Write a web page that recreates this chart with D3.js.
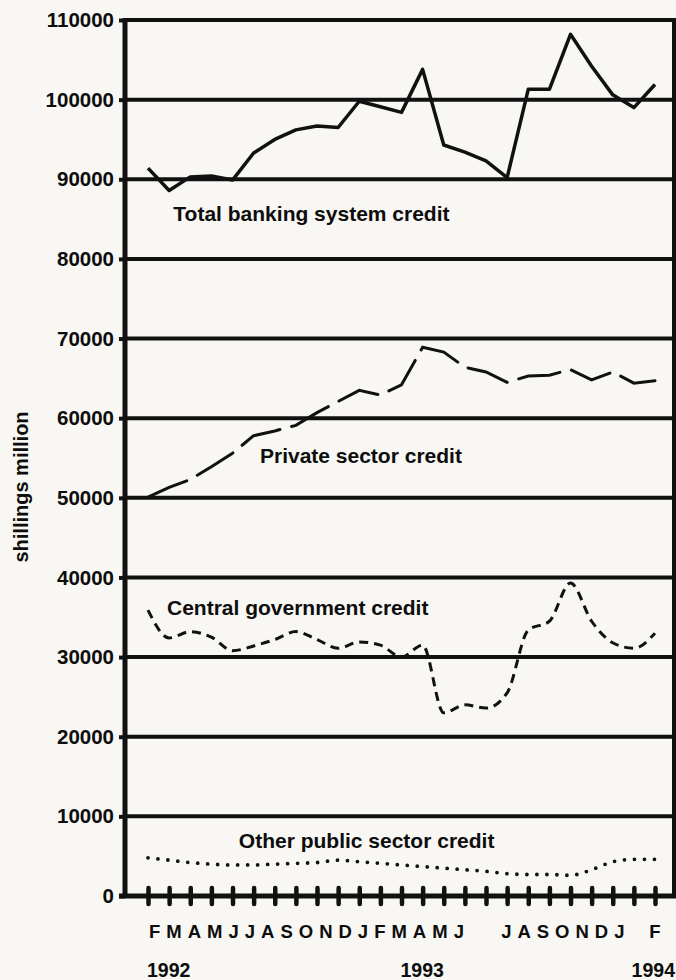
<!DOCTYPE html>
<meta charset="utf-8">
<style>
    body {
        margin: 0;
        background: #f8f7f3;
    }
    svg {
        display: block;
        font-family: "Liberation Sans", Arial, Helvetica, sans-serif;
        font-weight: bold;
    }
    text {
        fill: #0d0d0d;
    }
    .grid line {
        stroke: #111;
        stroke-width: 4;
    }
    .series {
        fill: none;
        stroke: #111;
    }
</style>
<body>
<script src="https://d3js.org/d3.v7.min.js"></script>
<script>
    // months Feb 1992 .. Feb 1994 (index 0..24)
    var months = ["F","M","A","M","J","J","A","S","O","N","D","J",
                  "F","M","A","M","J","J","A","S","O","N","D","J","F"];

    var totalCredit = [91400, 88600, 90300, 90400, 89900, 93300, 95000, 96200, 96700, 96500,
                       99800, 99100, 98400, 103800, 94300, 93400, 92300, 90200, 101300, 101300,
                       108200, 104200, 100600, 99000, 101900];

    var privateCredit = [50100, 51300, 52300, 53900, 55600, 57800, 58400, 59100, 60700, 62100,
                         63500, 62900, 64200, 68900, 68300, 66400, 65800, 64500, 65300, 65400,
                         66100, 64800, 65800, 64400, 64700];

    var centralCredit = [35900, 32400, 33200, 32500, 30800, 31400, 32200, 33200, 32200, 31100,
                         31900, 31500, 30000, 31500, 23000, 24000, 23600, 25500, 33400, 34500,
                         39300, 34500, 31800, 31100, 33000];

    var otherCredit = [4800, 4500, 4200, 4000, 3900, 3900, 4000, 4100, 4200, 4500,
                       4300, 4100, 3900, 3700, 3500, 3300, 3100, 2800, 2700, 2700,
                       2600, 3300, 4300, 4600, 4600];

    var yTicks = d3.range(0, 110001, 10000);

    // month label runs as typeset under the axis: text, month index where it starts
    var monthRuns = [
        {text: "FMAMJJASONDJFMAMJ", start: 0},
        {text: "JASONDJ", start: 17},
        {text: "F", start: 24}
    ];
    var years = [{text: "1992", start: 0}, {text: "1993", start: 12}, {text: "1994", start: 23}];

    // series labels: name, month index, value where the text starts
    var seriesLabels = [
        {text: "Total banking system credit", m: 1.2, v: 84700},
        {text: "Private sector credit", m: 5.3, v: 54400},
        {text: "Central government credit", m: 0.9, v: 35300},
        {text: "Other public sector credit", m: 4.3, v: 6000}
    ];

    var width = 676, height = 980;
    var frame = {left: 125, right: 674, top: 20, bottom: 896};

    var x = d3.scaleLinear()
            .domain([0, months.length - 1])
            .range([148, 655]);

    var y = d3.scaleLinear()
            .domain([0, 110000])
            .range([frame.bottom, frame.top]);

    var svg = d3.select("body").append("svg")
            .attr("width", width)
            .attr("height", height);

    // horizontal grid lines
    svg.append("g")
            .attr("class", "grid")
            .selectAll("line")
            .data(yTicks.filter(function(d) { return d > 0; }))
            .join("line")
            .attr("x1", frame.left)
            .attr("x2", frame.right)
            .attr("y1", function(d) { return y(d); })
            .attr("y2", function(d) { return y(d); });

    // right border
    svg.append("line")
            .attr("x1", frame.right).attr("x2", frame.right)
            .attr("y1", frame.top - 2).attr("y2", frame.bottom)
            .attr("stroke", "#111").attr("stroke-width", 4);

    // y axis
    var yAxis = d3.axisLeft(y)
            .tickValues(yTicks)
            .tickFormat(d3.format("d"))
            .tickSize(6)
            .tickPadding(5);

    var gy = svg.append("g")
            .attr("transform", "translate(" + frame.left + ",0)")
            .call(yAxis);
    gy.select(".domain").attr("stroke", "#111").attr("stroke-width", 5)
            .attr("d", "M0," + (frame.top - 2) + "V" + (frame.bottom + 2));
    gy.selectAll(".tick line").attr("stroke", "#111").attr("stroke-width", 4);
    gy.selectAll(".tick text")
            .attr("font-size", 20.5)
            .attr("font-family", "Liberation Sans, Arial, sans-serif")
            .attr("font-weight", "bold")
            .attr("fill", "#0d0d0d");

    // x axis with cross ticks
    var xAxis = d3.axisBottom(x)
            .tickValues(d3.range(months.length))
            .tickFormat("")
            .tickSizeInner(8)
            .tickSizeOuter(0);

    var gx = svg.append("g")
            .attr("transform", "translate(0," + frame.bottom + ")")
            .call(xAxis);
    gx.select(".domain").attr("stroke", "#111").attr("stroke-width", 5)
            .attr("d", "M" + (frame.left - 6) + ",0H" + (frame.right + 2));
    gx.selectAll(".tick line")
            .attr("y1", -8).attr("y2", 8)
            .attr("stroke", "#111").attr("stroke-width", 4.5)
            .attr("stroke-linecap", "round");

    // month labels
    svg.append("g").selectAll("text")
            .data(monthRuns)
            .join("text")
            .attr("x", function(d) { return d.text.length > 1 ? x(d.start) + (d.start ? -6 : 1) : x(d.start) + 3; })
            .attr("y", 938)
            .attr("text-anchor", function(d) { return d.text.length > 1 ? "start" : "middle"; })
            .attr("font-size", 18.5)
            .attr("letter-spacing", 6)
            .text(function(d) { return d.text; });

    svg.append("g").selectAll("text")
            .data(years)
            .join("text")
            .attr("x", function(d, i) { return i === years.length - 1 ? width - 1 : x(d.start) - 1; })
            .attr("text-anchor", function(d, i) { return i === years.length - 1 ? "end" : "start"; })
            .attr("y", 977)
            .attr("font-size", 19.5)
            .text(function(d) { return d.text; });

    // y axis title
    svg.append("text")
            .attr("transform", "translate(28,487) rotate(-90)")
            .attr("text-anchor", "middle")
            .attr("font-size", 20)
            .text("shillings million");

    // series
    var line = d3.line()
            .x(function(d, i) { return x(i); })
            .y(function(d) { return y(d); });

    svg.append("path")
            .datum(totalCredit)
            .attr("class", "series")
            .attr("stroke-width", 3.5)
            .attr("stroke-linejoin", "round")
            .attr("d", line);

    svg.append("path")
            .datum(privateCredit)
            .attr("class", "series")
            .attr("stroke-width", 3)
            .attr("stroke-linecap", "round")
            .attr("stroke-dasharray", "42,12")
            .attr("d", line);

    svg.append("path")
            .datum(centralCredit)
            .attr("class", "series")
            .attr("stroke-width", 3)
            .attr("stroke-dasharray", "9,6")
            .attr("d", line.curve(d3.curveMonotoneX));

    svg.append("path")
            .datum(otherCredit)
            .attr("class", "series")
            .attr("stroke-width", 3.8)
            .attr("stroke-linecap", "round")
            .attr("stroke-dasharray", "0,10")
            .attr("d", line.curve(d3.curveMonotoneX));

    svg.append("g").selectAll("text")
            .data(seriesLabels)
            .join("text")
            .attr("x", function(d) { return x(d.m); })
            .attr("y", function(d) { return y(d.v); })
            .attr("font-size", 21)
            .text(function(d) { return d.text; });
</script>
